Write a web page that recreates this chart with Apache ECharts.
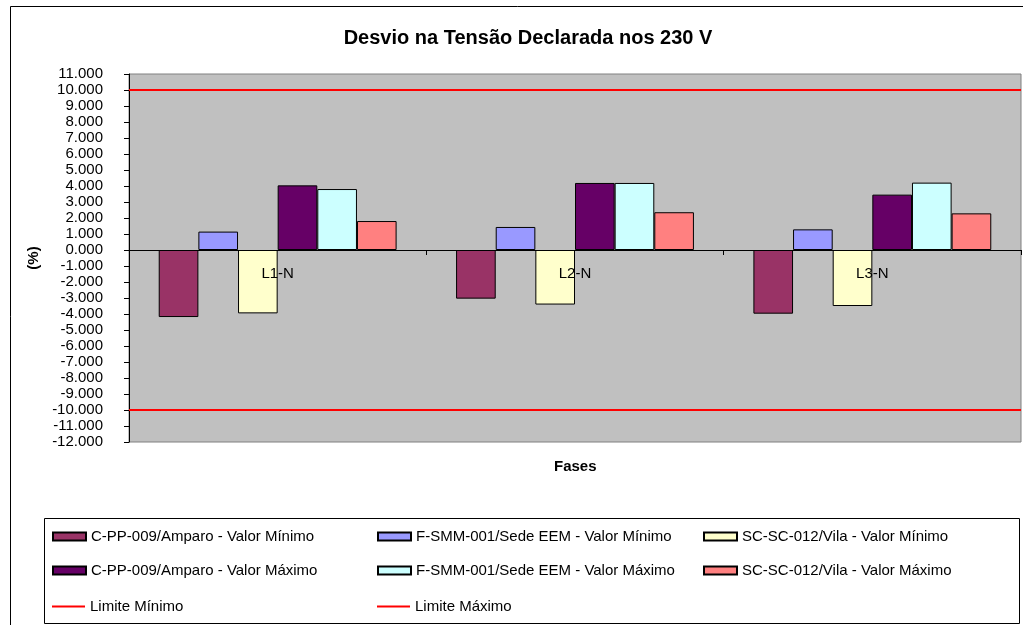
<!DOCTYPE html>
<html>
<head>
<meta charset="utf-8">
<script src="https://cdn.jsdelivr.net/npm/echarts@6/dist/echarts.min.js"></script>
<style>html,body{margin:0;padding:0;background:#fff;}#c{width:1023px;height:625px;}</style>
</head>
<body>
<div id="c"></div>
<script>
var categories = ['L1-N', 'L2-N', 'L3-N'];
var cppMin = [-4.19, -3.04, -3.98];
var fsmmMin = [1.15, 1.44, 1.29];
var scMin = [-3.96, -3.41, -3.50];
var cppMax = [4.04, 4.19, 3.46];
var fsmmMax = [3.81, 4.19, 4.21];
var scMax = [1.81, 2.36, 2.29];
var limMin = [-10, -10, -10];
var limMax = [10, 10, 10];
var barNames = [
  'C-PP-009/Amparo - Valor Mínimo',
  'F-SMM-001/Sede EEM - Valor Mínimo',
  'SC-SC-012/Vila - Valor Mínimo',
  'C-PP-009/Amparo - Valor Máximo',
  'F-SMM-001/Sede EEM - Valor Máximo',
  'SC-SC-012/Vila - Valor Máximo'
];
var lineNames = ['Limite Mínimo', 'Limite Máximo'];
var barData = [cppMin, fsmmMin, scMin, cppMax, fsmmMax, scMax];
var barColors = ['#993366', '#9999FF', '#FFFFCC', '#660066', '#CCFFFF', '#FF8080'];

var FONT = '"Liberation Sans", Arial, sans-serif';
var chart = echarts.init(document.getElementById('c'), null, {renderer: 'canvas'});

var series = barData.map(function (d, i) {
  return {
    name: barNames[i], type: 'bar', data: d,
    barGap: '0%', barCategoryGap: '20%',
    itemStyle: {color: barColors[i], borderColor: '#000', borderWidth: 1},
    emphasis: {disabled: true}
  };
});
[limMin, limMax].forEach(function (d, i) {
  series.push({
    name: lineNames[i], type: 'line', data: d, xAxisIndex: 1,
    symbol: 'none', showSymbol: false,
    lineStyle: {color: '#FF0000', width: 2}, itemStyle: {color: '#FF0000'},
    emphasis: {disabled: true}, z: 5
  });
});

var allNames = barNames.concat(lineNames);
var colX = [52, 377, 703];
var rowY = [536, 570, 606];
var legends = allNames.map(function (n, i) {
  var isLine = i >= barNames.length;
  return {
    data: [n], left: colX[i % 3], top: rowY[Math.floor(i / 3)] - 7,
    padding: 0, itemWidth: 33, itemHeight: isLine ? 2 : 8, itemGap: 5,
    icon: 'rect',
    selectedMode: false,
    textStyle: {fontFamily: FONT, fontSize: 15, color: '#000'}
  };
});

chart.setOption({
  animation: false,
  backgroundColor: '#fff',
  title: {
    text: 'Desvio na Tensão Declarada nos 230 V', left: 523, top: 23, textAlign: 'center',
    textStyle: {fontFamily: FONT, fontSize: 20, fontWeight: 'bold', color: '#000'}
  },
  legend: legends,
  grid: {
    left: 129, right: 2, top: 74, height: 368,
    show: true, backgroundColor: '#C0C0C0', borderColor: '#808080', borderWidth: 1,
    containLabel: false
  },
  xAxis: [{
    type: 'category', data: categories, z: 10,
    axisLine: {onZero: true, lineStyle: {color: '#000', width: 1}},
    axisTick: {show: true, length: 5, lineStyle: {color: '#000'}},
    axisLabel: {fontFamily: FONT, fontSize: 15, color: '#000', margin: -176},
    splitLine: {show: false}
  }, {
    type: 'category', data: categories, boundaryGap: false, show: false
  }],
  yAxis: {
    type: 'value', min: -12, max: 11, interval: 1,
    name: '(%)', nameLocation: 'middle', nameRotate: 90, nameGap: 85,
    nameTextStyle: {fontFamily: FONT, fontSize: 15, fontWeight: 'bold', color: '#000'},
    axisLine: {show: true, lineStyle: {color: '#000'}},
    axisTick: {show: true, length: 5, lineStyle: {color: '#000'}},
    axisLabel: {fontFamily: FONT, fontSize: 15, color: '#000', margin: 26,
      formatter: function (v) { return v.toFixed(3); }},
    splitLine: {show: false}
  },
  graphic: [
    {type: 'rect', shape: {x: 10.5, y: 6.5, width: 1030, height: 640}, style: {fill: null, stroke: '#000', lineWidth: 1}, z: -10, silent: true},
    {type: 'rect', shape: {x: 44.5, y: 518.5, width: 975, height: 105}, style: {fill: null, stroke: '#000', lineWidth: 1}, silent: true},
    {type: 'text', left: 554, top: 459, style: {text: 'Fases', font: 'bold 15px ' + FONT, fill: '#000'}, silent: true}
  ],
  series: series
});
</script>
</body>
</html>
